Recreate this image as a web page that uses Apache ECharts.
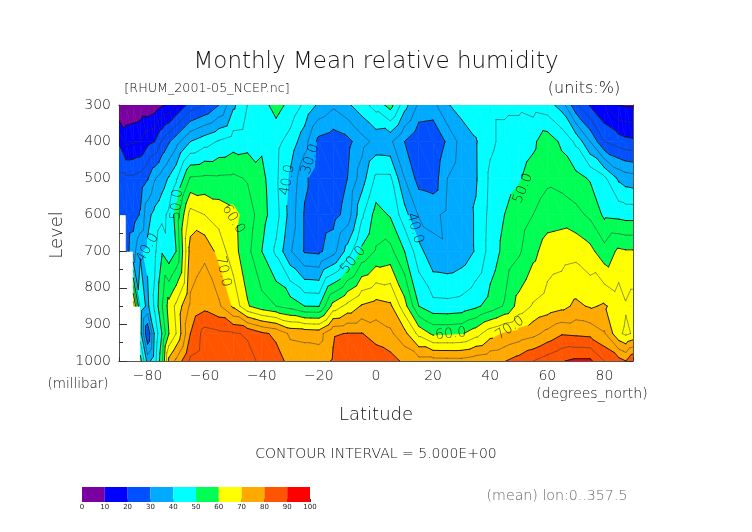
<!DOCTYPE html>
<html><head><meta charset="utf-8">
<style>html,body{margin:0;padding:0;background:#fff}#c{width:752px;height:532px}</style>
<script src="https://cdn.jsdelivr.net/npm/echarts@6/dist/echarts.min.js"></script></head>
<body><div id="c"></div>
<script>
const lats=[-90,-87.5,-85,-82.5,-80,-77.5,-75,-72.5,-70,-65,-60,-55,-50,-45,-40,-35,-30,-25,-20,-15,-10,-5,0,5,10,15,20,25,30,35,40,45,50,55,60,65,70,75,80,85,87.5,90];
const levels=[300,400,500,600,700,850,925,1000];
const rh300=[3,5,5.5,6.3,6,7,9.3,11,15,22,25,30,39,45,48,52,48.5,44,39,36,39,43,47,52,42,34,33.5,39.6,42,43,44,44,44,43,42,38,26,19.5,15,10,9.5,9.5];
const rh400=[19.2,14,14.5,15,18.5,20,25.5,29.5,33,40,43,45.5,47.5,48,49,46.5,43,37,28.5,27,28.5,33,36.5,36,30,25.5,25,31,37,39.6,44,46.5,47.5,49,53,49,44,35,25,22.5,21.5,21];
const rh500=[26,26,26,27,29.5,34.5,37.5,40.5,44,55.5,56,55.8,56,54.5,51.5,46,39,31,27,26.5,30,37.5,46,46,35,28,27,35,38,39.5,46,48,49.5,52,54,53,51.5,49.5,46,39,37.5,37];
const rh600=[27,27,27.5,30.5,38.5,41.5,43.5,46,52,67,65,63,61.5,58,52,47,38,29.5,27,28,32,44,52,49.5,42,34.5,34,36,37.5,40.5,46.5,50,52.5,55,57.5,58,56.5,54,49,48.5,48,48];
const rh700=[null,28,33,39.5,41,44,49.5,46.5,50,72,74,68,62,56.5,50,44,35.5,29.5,29,33,42,51,55.5,56.5,50,42,36,35.5,37,40.5,47,51.5,54.2,58.5,62.5,63,63.5,61.5,56.8,61,60.5,60.5];
const rh850=[null,null,68,43,38.8,46,54.5,62,66,76,78.5,76,69,60.5,57,55,53,50,49.8,62,66.5,70.5,72,71,62,50,46.7,46.5,47,49,52,55.5,62,65.5,67,68.5,71,69.5,70.5,68,65.5,67];
const rh925=[null,null,null,42,25,41,50,60,65,80,87,86,85.5,84.5,81,79,74,73.5,73,79.5,80.2,80.2,78,76,71.5,63.5,59,59,59.5,63,68,70.5,72,73.5,76.5,79.5,79,78.5,75.5,66,64,65.5];
const rh1000=[null,null,null,52,38,43,53.5,71.5,76,86,88,88,88,86.5,84,82,78.5,78,78,80.5,84,84,83,82,79,77,77,76.8,76.7,78,79,79.8,82,85,87.5,89.7,91,91,85,82,80,85];
const rows=[rh300,rh400,rh500,rh600,rh700,rh850,rh925,rh1000];
const bandColors=['#7b00a0','#0000ff','#0050ff','#00aaff','#00ffff','#00ff55','#ffff00','#ffaa00','#ff5500','#ff0000'];
const bandEdges=[0,10,20,30,40,50,60,70,80,90,100];
const contourLevels=[5,10,15,20,25,30,35,40,45,50,55,60,65,70,75,80,85,90,95];
const labelLat=[-69.7,-50,-80,-53.5,-31,-23,-8,13.6,51.5,26.2,46.9];
const labelLevel=[572,612,691,755,505,448,724,637,528,926,910];
const labelValue=[50,60,40,70,40,30,50,40,50,60,70];
const labelRotate=[85,-58,60,-78,80,72,50,-75,68,5,35];
const xMajor=[-80,-60,-40,-20,0,20,40,60,80];
const barLo=[0,10,20,30,40,50,60,70,80,90];

const tris=[];
for(let i=0;i<lats.length-1;i++)for(let j=0;j<levels.length-1;j++){
  const c=[[i,j],[i+1,j],[i+1,j+1],[i,j+1]].map(([a,b])=>[lats[a],levels[b],rows[b][a]]);
  if(c.some(p=>p[2]===null))continue;
  tris.push([c[0],c[1],c[2]],[c[0],c[2],c[3]]);
}
function clip(poly,lim,keepAbove){
  const out=[];
  const ins=p=>keepAbove?p[2]>=lim:p[2]<=lim;
  for(let k=0;k<poly.length;k++){
    const a=poly[k],b=poly[(k+1)%poly.length];
    if(ins(a))out.push(a);
    if(ins(a)!==ins(b)){const t=(lim-a[2])/(b[2]-a[2]);out.push([a[0]+(b[0]-a[0])*t,a[1]+(b[1]-a[1])*t,lim]);}
  }
  return out;
}
const pieces=[];
tris.forEach(t=>{
  bandColors.forEach((col,b)=>{
    let p=clip(t,bandEdges[b],true);
    if(p.length)p=clip(p,bandEdges[b+1],false);
    if(p.length>2)pieces.push({col,pts:p});
  });
});
const segs=[];
const pxd=(a,b,c,d)=>Math.hypot((a-c)*2.856,(b-d)*0.3657);
tris.forEach(t=>{
  contourLevels.forEach(L=>{
    const cr=[];
    for(let k=0;k<3;k++){
      const a=t[k],b=t[(k+1)%3];
      if((a[2]>=L)!==(b[2]>=L)){const u=(L-a[2])/(b[2]-a[2]);cr.push([a[0]+(b[0]-a[0])*u,a[1]+(b[1]-a[1])*u]);}
    }
    if(cr.length===2){
      const mx=(cr[0][0]+cr[1][0])/2,my=(cr[0][1]+cr[1][1])/2;
      const hidden=labelLat.some((la,n)=>labelValue[n]===L&&pxd(la,labelLevel[n],mx,my)<17);
      if(!hidden)segs.push({L,a:cr[0],b:cr[1]});
    }
  });
});
const txt='#111';
const FONT='"DejaVu Sans ExtraLight","DejaVu Sans Light","DejaVu Sans"';
const tickBase={show:true,inside:true,lineStyle:{color:'#333',width:1}};
const xCommon={type:'value',gridIndex:0,min:-90,max:90,interval:10,splitLine:{show:false},axisLine:{onZero:false,lineStyle:{color:'#555',width:1}}};
const yCommon={type:'value',gridIndex:0,min:300,max:1000,interval:100,inverse:true,splitLine:{show:false},axisLine:{onZero:false,show:true,lineStyle:{color:'#555',width:1}}};
const T=(text,x,y,size,extra)=>Object.assign({type:'text',x,y,silent:true,z:50,style:{text,fontFamily:FONT,fontSize:size,fill:txt,textAlign:'center',textVerticalAlign:'middle'}},extra||{});
const option={
  animation:false,
  backgroundColor:'#fff',
  grid:[{left:119,top:105,width:514,height:256,show:false},{left:82,top:487,width:228,height:15,show:false}],
  xAxis:[
    Object.assign({},xCommon,{position:'bottom',axisTick:Object.assign({},tickBase,{length:4}),axisLabel:{customValues:xMajor,color:txt,fontFamily:FONT,fontSize:14,margin:8,formatter:v=>v<0?'\u2212'+(-v):''+v}}),
    Object.assign({},xCommon,{position:'top',axisTick:Object.assign({},tickBase,{length:4}),axisLabel:{show:false}}),
    Object.assign({},xCommon,{position:'bottom',axisTick:Object.assign({},tickBase,{length:8,customValues:xMajor}),axisLabel:{show:false}}),
    Object.assign({},xCommon,{position:'top',axisTick:Object.assign({},tickBase,{length:8,customValues:xMajor}),axisLabel:{show:false}}),
    {type:'value',gridIndex:1,min:0,max:100,interval:10,position:'bottom',splitLine:{show:false},axisLine:{show:false},axisTick:{show:true,inside:true,length:3,lineStyle:{color:'#333'}},axisLabel:{color:'#222',fontFamily:'DejaVu Sans',fontSize:7,margin:2}}
  ],
  yAxis:[
    Object.assign({},yCommon,{position:'left',axisTick:Object.assign({},tickBase,{length:8}),minorTick:{show:true,splitNumber:2,length:4,lineStyle:{color:'#333'}},axisLabel:{color:txt,fontFamily:FONT,fontSize:14,margin:8,formatter:v=>''+v}}),
    Object.assign({},yCommon,{position:'right',axisTick:Object.assign({},tickBase,{length:8}),minorTick:{show:true,splitNumber:2,length:4,lineStyle:{color:'#333'}},axisLabel:{show:false}}),
    {type:'value',gridIndex:1,min:0,max:1,show:false}
  ],
  series:[
    {type:'custom',xAxisIndex:0,yAxisIndex:0,silent:true,clip:true,z:1,
      data:pieces.map((p,i)=>[i]),encode:{x:[],y:[]},
      renderItem:(params,api)=>{const p=pieces[api.value(0)];
        return {type:'polygon',shape:{points:p.pts.map(q=>api.coord([q[0],q[1]]))},style:{fill:p.col,stroke:p.col,lineWidth:0.6}};}},
    {type:'custom',xAxisIndex:0,yAxisIndex:0,silent:true,clip:true,z:2,
      data:segs.map((p,i)=>[i]),encode:{x:[],y:[]},
      renderItem:(params,api)=>{const s=segs[api.value(0)];const a=api.coord(s.a),b=api.coord(s.b);const major=s.L%10===0;
        return {type:'line',shape:{x1:a[0],y1:a[1],x2:b[0],y2:b[1]},style:{stroke:major?'#111':'#333',lineWidth:major?0.9:0.5,lineCap:'round'}};}},
    {type:'scatter',xAxisIndex:0,yAxisIndex:0,silent:true,z:3,symbolSize:0,
      data:labelLat.map((la,i)=>({value:[la,labelLevel[i]],label:{show:true,position:'inside',formatter:labelValue[i].toFixed(1),rotate:labelRotate[i],color:'#000',fontFamily:FONT,fontSize:14}}))},
    {type:'custom',xAxisIndex:4,yAxisIndex:2,silent:true,z:1,
      data:barLo.map((v,i)=>[v,i]),encode:{x:0,y:[]},
      renderItem:(params,api)=>{const lo=api.value(0);const a=api.coord([lo,1]),b=api.coord([lo+10,0]);
        return {type:'rect',shape:{x:a[0],y:a[1],width:b[0]-a[0],height:b[1]-a[1]},style:{fill:bandColors[api.value(1)]}};}}
  ],
  graphic:[
    T('Monthly Mean relative humidity',376,62,23),
    T('[RHUM_2001-05_NCEP.nc]',207,89,12.7),
    T('(units:%)',584,89,16),
    T('Level',57,235,18,{rotation:Math.PI/2}),
    T('(millibar)',78,384,13.5),
    T('Latitude',376,415,18),
    T('(degrees_north)',592,394,14),
    T('CONTOUR INTERVAL = 5.000E+00',376,454,14),
    {type:'text',x:557,y:496,silent:true,style:{text:'(mean) lon:0..357.5',fontFamily:FONT,fontSize:14.2,fill:'#666',textAlign:'center',textVerticalAlign:'middle'}}
  ]
};
echarts.init(document.getElementById('c'),null,{renderer:'canvas'}).setOption(option);
</script></body></html>
